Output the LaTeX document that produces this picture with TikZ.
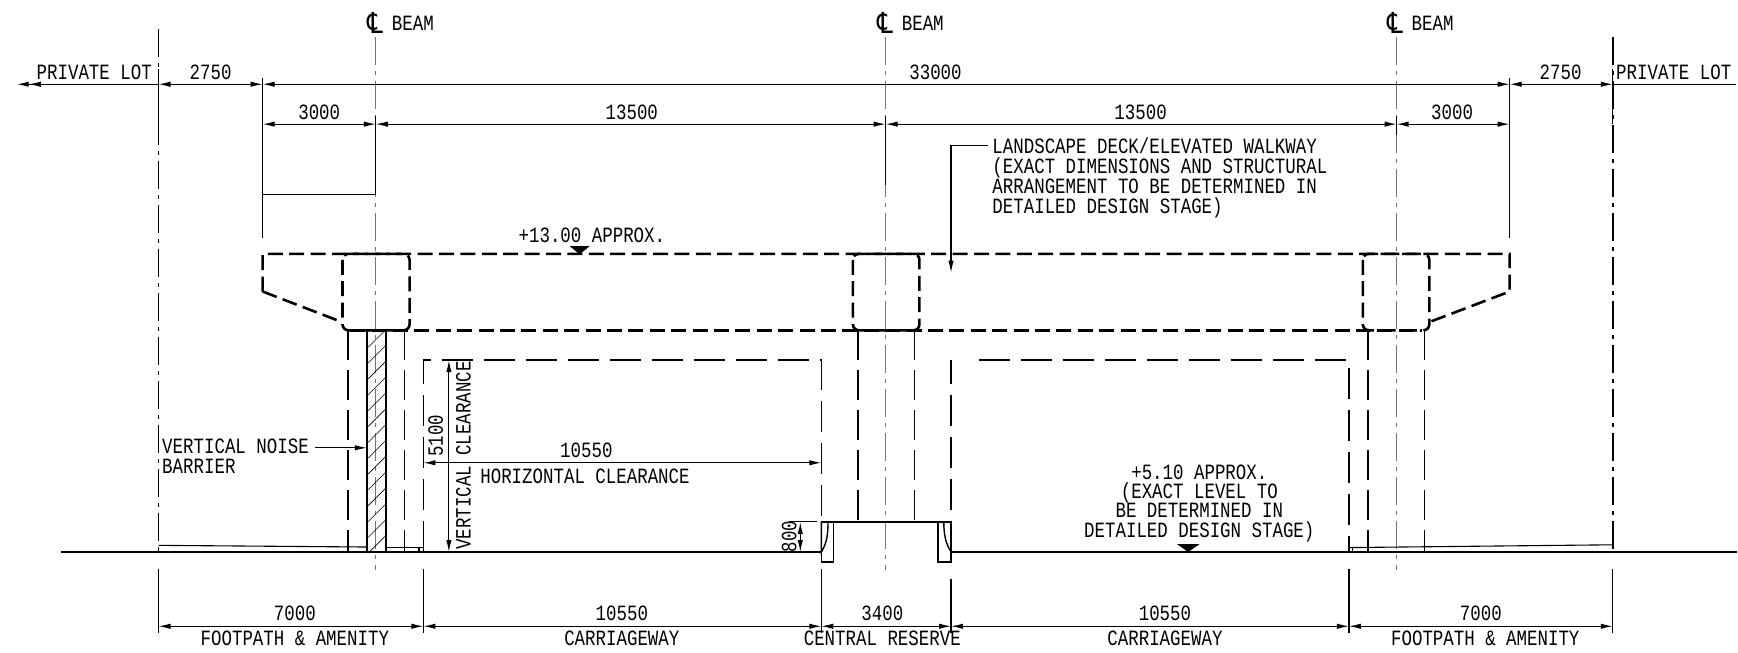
\documentclass[tikz,border=0pt]{standalone}
\usepackage{fontspec}
\usetikzlibrary{calc}
\usetikzlibrary{arrows.meta}
\usetikzlibrary{patterns.meta}
\newfontfamily\cadfont[FakeStretch=0.8]{Liberation Mono}
\newfontfamily\clfont[FakeStretch=0.85]{DejaVu Sans}
\newcommand{\clmark}{{\clfont\fontsize{14.5}{14.5}\selectfont\symbol{"2104}}}
\begin{document}
\begin{tikzpicture}[x=0.55421pt, y=-0.55421pt,
    >={Latex[length=6pt,width=2.7pt]},
    LBL/.style={font=\cadfont\fontsize{10.9}{10}\selectfont, inner sep=0pt, align=center, text=black},
    DIM/.style={draw=black, line width=0.55pt, <->},
    EXT/.style={draw=black, line width=0.6pt},
    GROUND/.style={draw=black, line width=0.95pt},
    DECK/.style={draw=black, line width=1.3pt, dash pattern=on 7.5pt off 3.2pt},
    PIER/.style={draw=black, line width=0.75pt, dash pattern=on 15pt off 5pt},
    CLEAR/.style={draw=black, line width=0.8pt, dash pattern=on 15.5pt off 5.5pt},
    BOUND/.style={draw=black, line width=0.75pt, dash pattern=on 14pt off 3pt on 2pt off 3pt},
    CL/.style={draw=black!55, line width=0.7pt, dash pattern=on 14pt off 3pt on 2pt off 3pt},
    SITE/.style={draw=black, line width=0.55pt}]

    \useasboundingbox (0,0) rectangle (1568,588.3);

    \coordinate (LB) at (143,76);
    \coordinate (RB) at (1455,76);
    \coordinate (DL) at (237,76);
    \coordinate (DR) at (1362,76);
    \coordinate (C1) at (339,112);
    \coordinate (C2) at (799,112);
    \coordinate (C3) at (1260,112);

    \draw[BOUND] (143,26) -- (143,498);
    \draw[BOUND] (1455,33) -- (1455,498);
    \draw[EXT] (143,62) -- (143,112);
    \draw[EXT] (1455,62) -- (1455,112);
    \draw[CL] (339,33) -- (339,514);
    \draw[CL] (799,33) -- (799,514);
    \draw[CL] (1260,33) -- (1260,514);

    \node[LBL] (CL1) at (339,21) {\clmark};
    \node[LBL] (B1) at (372.5,21) {BEAM};
    \node[LBL] (CL2) at (799,21) {\clmark};
    \node[LBL] (B2) at (832.5,21) {BEAM};
    \node[LBL] (CL3) at (1259,21) {\clmark};
    \node[LBL] (B3) at (1292.5,21) {BEAM};

    \draw[EXT] (237,70) -- (237,215);
    \draw[EXT] (1362,70) -- (1362,215);
    \draw[EXT] (339,105) -- (339,176);
    \draw[EXT] (799,105) -- (799,167);
    \draw[EXT] (1260,105) -- (1260,122);
    \draw[EXT] (237,175.5) -- (339,175.5);

    \draw[draw=black, line width=0.7pt, <-] (15,76) -- (LB);
    \draw[->] (36,76) -- (26,76);
    \draw[DIM] (LB) -- (DL);
    \draw[DIM] (DL) -- (DR);
    \draw[DIM] (DR) -- (RB);
    \draw[line width=0.7pt] (RB) -- (1566,76);
    \draw[DIM] (237,112) -- (C1);
    \draw[DIM] (C1) -- (C2);
    \draw[DIM] (C2) -- (C3);
    \draw[DIM] (C3) -- (1362,112);

    \node[LBL] (PL1) at (85,65) {PRIVATE LOT};
    \node[LBL] (D1) at (190,65) {2750};
    \node[LBL] (D2) at (844,65) {33000};
    \node[LBL] (D3) at (1408,65) {2750};
    \node[LBL] (PL2) at (1510,65) {PRIVATE LOT};
    \node[LBL] (D4) at (288,101) {3000};
    \node[LBL] (D5) at (570,101) {13500};
    \node[LBL] (D6) at (1029,101) {13500};
    \node[LBL] (D7) at (1310,101) {3000};

    \node[LBL, anchor=north west, align=left] (LAND) at (895,124)
        {LANDSCAPE DECK/ELEVATED WALKWAY\\
         (EXACT DIMENSIONS AND STRUCTURAL\\
         ARRANGEMENT TO BE DETERMINED IN\\
         DETAILED DESIGN STAGE)};
    \coordinate (LANDTIP) at (858,246);
    \draw[line width=0.55pt, ->] (891,131.5) -| (LANDTIP);

    \node[LBL] (EL13) at (534,212) {+13.00 APPROX.};
    \fill[black] (514,222) -- (532,222) -- (523,229.5) -- cycle;

    \draw[DECK] (237,263) -- (237,229) -- (1362,229) -- (1362,263) -- (1291,290);
    \draw[DECK] (237,263) -- (307,290);
    \draw[DECK] (316,298) -- (1283,298);
    \draw[DECK, rounded corners=3pt] (309,229) rectangle (369.5,298);
    \draw[DECK, rounded corners=3pt] (769.5,229) rectangle (829.5,298);
    \draw[DECK, rounded corners=3pt] (1229.5,229) rectangle (1289.5,298);

    \draw[PIER] (314,298) -- (314,498);
    \draw[PIER] (365,298) -- (365,498);
    \draw[PIER] (774,298) -- (774,471);
    \draw[PIER] (825,298) -- (825,471);
    \draw[PIER] (1234,298) -- (1234,498);
    \draw[PIER] (1285,298) -- (1285,498);

    \draw[draw=black, line width=1pt, pattern={Lines[angle=45,distance=5.6pt,line width=0.3pt]}]
        (331,298) rectangle (348,498);

    \draw[CLEAR] (382,498) -- (382,325) -- (741,325) -- (741,498);
    \draw[CLEAR] (858,498) -- (858,325);
    \draw[CLEAR] (883,325) -- (1217,325) -- (1217,498);

    \draw[DIM] (405,325) -- (405,498);
    \draw[DIM] (382,417.5) -- (741,417.5);
    \node[LBL, rotate=90] (H51) at (393,393) {5100};
    \node[LBL, rotate=90] (VC) at (418,411) {VERTICAL CLEARANCE};
    \node[LBL] (W1) at (529,406) {10550};
    \node[LBL, anchor=west] (HC) at (433,430) {HORIZONTAL CLEARANCE};

    \node[LBL, anchor=north west, align=left] (VNB) at (146,396)
        {VERTICAL NOISE\\BARRIER};
    \draw[line width=0.55pt, ->] (VNB.north east |- 0,404) ++(5,0) -- (331,404);

    \draw[GROUND] (55,498) -- (741,498);
    \draw[GROUND] (858,498) -- (1567,498);
    \draw[SITE] (143,492) -- (331,493.5);
    \draw[SITE] (348,494) -- (382,494);
    \draw[SITE] (378,494) -- (378,498);
    \draw[SITE] (1217,494) -- (1455,491.5);
    \draw[SITE] (1220,494) -- (1220,498);

    \draw[line width=0.8pt] (741,498) -- (741,507) -- (752,507) -- (752,471);
    \draw[line width=0.8pt] (858,498) -- (858,507) -- (846.5,507) -- (846.5,471);
    \draw[line width=0.9pt] (741,471) -- (858,471);
    \draw[line width=0.7pt] (741,471) -- (741,498) .. controls (746,490) and (747,482) .. (747,471);
    \draw[line width=0.7pt] (858,471) -- (858,498) .. controls (853,490) and (851.5,482) .. (851.5,471);

    \draw[EXT] (712,470.5) -- (737,470.5);
    \draw[DIM] (722,471) -- (722,498);
    \node[LBL, rotate=90] (H8) at (712,484) {800};

    \node[LBL, anchor=north, font=\cadfont\fontsize{10.9}{9.6}\selectfont] (EL5) at (1082,419)
        {+5.10 APPROX.\\(EXACT LEVEL TO\\BE DETERMINED IN\\DETAILED DESIGN STAGE)};
    \fill[black] (1062,491) -- (1082,491) -- (1072,498) -- cycle;

    \draw[EXT] (143,513) -- (143,571);
    \draw[EXT] (382,513) -- (382,571);
    \draw[EXT] (741,513) -- (741,571);
    \draw[EXT] (858,522) -- (858,571);
    \draw[EXT] (1217,513) -- (1217,571);
    \draw[EXT] (1455,513) -- (1455,571);

    \draw[DIM] (143,565) -- (382,565);
    \draw[DIM] (382,565) -- (741,565);
    \draw[DIM] (741,565) -- (858,565);
    \draw[DIM] (858,565) -- (1217,565);
    \draw[DIM] (1217,565) -- (1455,565);

    \node[LBL] (W2) at (266,553) {7000};
    \node[LBL] (W3) at (561,553) {10550};
    \node[LBL] (W4) at (796,553) {3400};
    \node[LBL] (W5) at (1051,553) {10550};
    \node[LBL] (W6) at (1336,553) {7000};

    \node[LBL] (Z1) at (266,576) {FOOTPATH \& AMENITY};
    \node[LBL] (Z2) at (561,576) {CARRIAGEWAY};
    \node[LBL] (Z3) at (796,576) {CENTRAL RESERVE};
    \node[LBL] (Z4) at (1051,576) {CARRIAGEWAY};
    \node[LBL] (Z5) at (1340,576) {FOOTPATH \& AMENITY};
\end{tikzpicture}
\end{document}
